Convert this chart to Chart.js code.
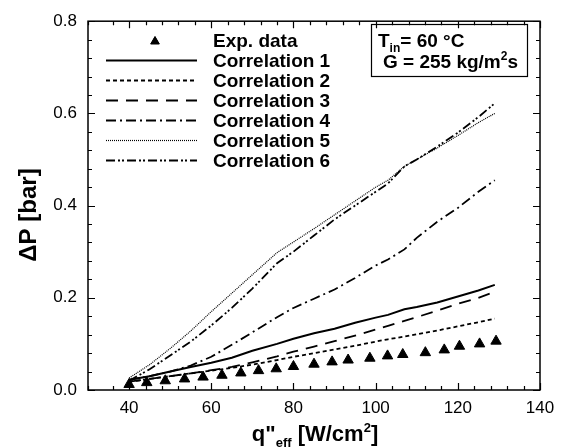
<!DOCTYPE html>
<html>
<head>
<meta charset="utf-8">
<title>Pressure drop vs effective heat flux</title>
<script src="https://cdn.jsdelivr.net/npm/chart.js@4.4.1/dist/chart.umd.min.js"></script>
<style>
  html, body { margin: 0; padding: 0; background: #fff; }
  #wrap { width: 564px; height: 448px; }
</style>
</head>
<body>
<div id="wrap"><canvas id="my-chart" width="564" height="448"></canvas></div>
<script>
'use strict';

// *** DATA ***

// experimental points (triangles)
let expFlux = [40, 44.3, 48.8, 53.5, 58, 62.6, 67.2, 71.5, 75.8, 80, 85, 89.4, 93.3, 98.6, 102.9, 106.6, 112.1, 116.7, 120.4, 125.3, 129.3];
let expDrop = [0.012, 0.016, 0.020, 0.024, 0.028, 0.032, 0.037, 0.042, 0.046, 0.051, 0.056, 0.061, 0.065, 0.069, 0.074, 0.077, 0.081, 0.087, 0.095, 0.100, 0.106];

// the six correlations share one flux grid
let corrFlux = [40, 45, 50, 55, 60, 65, 70, 76, 80, 85, 90, 95, 100, 103, 107, 110, 115, 120, 125, 129];
let corr1 = [0.022, 0.030, 0.040, 0.050, 0.059, 0.070, 0.085, 0.100, 0.111, 0.123, 0.133, 0.146, 0.157, 0.163, 0.175, 0.180, 0.190, 0.203, 0.216, 0.228];
let corr2 = [0.018, 0.024, 0.030, 0.036, 0.042, 0.048, 0.055, 0.065, 0.072, 0.080, 0.088, 0.096, 0.105, 0.110, 0.116, 0.121, 0.129, 0.138, 0.147, 0.155];
let corr3 = [0.018, 0.024, 0.030, 0.036, 0.043, 0.050, 0.060, 0.073, 0.083, 0.094, 0.106, 0.118, 0.131, 0.139, 0.150, 0.158, 0.172, 0.187, 0.200, 0.213];
let corr4 = [0.022, 0.030, 0.040, 0.053, 0.072, 0.098, 0.125, 0.158, 0.178, 0.198, 0.218, 0.243, 0.270, 0.283, 0.305, 0.330, 0.365, 0.395, 0.430, 0.455];
let corr5 = [0.026, 0.055, 0.090, 0.128, 0.170, 0.210, 0.250, 0.298, 0.321, 0.350, 0.380, 0.410, 0.440, 0.455, 0.485, 0.500, 0.525, 0.552, 0.580, 0.600];
let corr6 = [0.020, 0.045, 0.075, 0.105, 0.140, 0.178, 0.220, 0.275, 0.300, 0.335, 0.370, 0.400, 0.430, 0.448, 0.485, 0.500, 0.528, 0.558, 0.592, 0.622];

let xTickLabels = [40, 60, 80, 100, 120, 140];
let yTickLabels = [0.0, 0.2, 0.4, 0.6, 0.8];

const FONT = '"Liberation Sans", Arial, sans-serif';

// *** HELPERS ***

function toPoints(xs, ys) {
  let pts = [];
  for (let i = 0; i < xs.length; i++) {
    pts.push({ x: xs[i], y: ys[i] });
  }
  return pts;
}

function corrDataset(name, values, dash, width) {
  return {
    label: name,
    data: toPoints(corrFlux, values),
    showLine: true,
    borderColor: '#000',
    borderWidth: width,
    borderDash: dash,
    pointRadius: 0,
    pointHoverRadius: 0,
    fill: false,
    tension: 0
  };
}

function isLabelTick(list, v) {
  return list.some(t => Math.abs(t - v) < 1e-6);
}

// *** PLUGINS ***

// box frame with inward ticks on all four sides
const framePlugin = {
  id: 'frame',
  afterDatasetsDraw(chart) {
    let ctx = chart.ctx;
    let a = chart.chartArea;
    let xs = chart.scales.x;
    let ys = chart.scales.y;
    ctx.save();
    ctx.strokeStyle = '#000';
    ctx.lineWidth = 1.5;
    ctx.strokeRect(a.left, a.top, a.right - a.left, a.bottom - a.top);
    ctx.lineWidth = 1.2;
    ctx.beginPath();
    xs.ticks.forEach(t => {
      let px = Math.round(xs.getPixelForValue(t.value)) + 0.5;
      let len = isLabelTick(xTickLabels, t.value) ? 7 : 4;
      ctx.moveTo(px, a.bottom); ctx.lineTo(px, a.bottom - len);
      ctx.moveTo(px, a.top); ctx.lineTo(px, a.top + len);
    });
    ys.ticks.forEach(t => {
      let py = Math.round(ys.getPixelForValue(t.value)) + 0.5;
      let len = isLabelTick(yTickLabels, t.value) ? 7 : 4;
      ctx.moveTo(a.left, py); ctx.lineTo(a.left + len, py);
      ctx.moveTo(a.right, py); ctx.lineTo(a.right - len, py);
    });
    ctx.stroke();
    ctx.restore();
  }
};

// legend and the condition box drawn inside the plot
const notesPlugin = {
  id: 'notes',
  afterDraw(chart) {
    let ctx = chart.ctx;
    ctx.save();
    ctx.fillStyle = '#000';
    ctx.strokeStyle = '#000';
    ctx.font = 'bold 19px ' + FONT;
    ctx.textBaseline = 'alphabetic';

    chart.data.datasets.forEach((ds, i) => {
      let base = 47 + i * 20;
      let midY = base - 6.5;
      if (ds.showLine) {
        ctx.save();
        ctx.lineWidth = ds.borderWidth;
        ctx.setLineDash(ds.borderDash || []);
        ctx.beginPath();
        ctx.moveTo(106, midY);
        ctx.lineTo(197, midY);
        ctx.stroke();
        ctx.restore();
      } else {
        Chart.helpers.drawPoint(ctx, { pointStyle: 'triangle', radius: 5, borderWidth: 1 }, 155, midY + 1);
        ctx.fill();
      }
      ctx.fillText(ds.label, 213, base);
    });

    // condition box
    ctx.lineWidth = 1.2;
    ctx.strokeRect(371.5, 24.5, 156, 52);
    let x = 378;
    ctx.fillText('T', x, 47);
    x += ctx.measureText('T').width;
    ctx.font = 'bold 12px ' + FONT;
    ctx.fillText('in', x, 52);
    x += ctx.measureText('in').width;
    ctx.font = 'bold 19px ' + FONT;
    ctx.fillText('= 60 \u00B0C', x, 47);

    x = 383;
    let txt = 'G = 255 kg/m';
    ctx.fillText(txt, x, 68);
    x += ctx.measureText(txt).width;
    ctx.font = 'bold 12px ' + FONT;
    ctx.fillText('2', x, 60);
    x += ctx.measureText('2').width;
    ctx.font = 'bold 19px ' + FONT;
    ctx.fillText('s', x, 68);
    ctx.restore();
  }
};

// axis titles with sub/superscripts
const titlesPlugin = {
  id: 'titles',
  afterDraw(chart) {
    let ctx = chart.ctx;
    ctx.save();
    ctx.fillStyle = '#000';

    // x title: q"eff [W/cm2]
    let big = 'bold 22px ' + FONT;
    let small = 'bold 13px ' + FONT;
    let parts = [
      { t: 'q"', f: big, dy: 0 },
      { t: 'eff', f: small, dy: 6 },
      { t: ' [W/cm', f: big, dy: 0 },
      { t: '2', f: small, dy: -9 },
      { t: ']', f: big, dy: 0 }
    ];
    let total = 0;
    parts.forEach(p => { ctx.font = p.f; total += ctx.measureText(p.t).width; });
    let x = 315 - total / 2;
    let base = 441;
    ctx.textBaseline = 'alphabetic';
    parts.forEach(p => {
      ctx.font = p.f;
      ctx.fillText(p.t, x, base + p.dy);
      x += ctx.measureText(p.t).width;
    });

    // y title
    ctx.translate(29, 215);
    ctx.rotate(-Math.PI / 2);
    ctx.font = 'bold 24px ' + FONT;
    ctx.textAlign = 'center';
    ctx.textBaseline = 'middle';
    ctx.fillText('\u0394P [bar]', 0, 0);
    ctx.restore();
  }
};

// *** CHART ***

let canvasElem = document.getElementById('my-chart');

let datasets = [
  {
    label: 'Exp. data',
    data: toPoints(expFlux, expDrop),
    showLine: false,
    pointStyle: 'triangle',
    pointRadius: 6,
    pointHoverRadius: 6,
    pointBackgroundColor: '#000',
    pointBorderColor: '#000',
    pointBorderWidth: 1
  },
  corrDataset('Correlation 1', corr1, [], 2),
  corrDataset('Correlation 2', corr2, [4, 3], 1.8),
  corrDataset('Correlation 3', corr3, [12, 8], 1.8),
  corrDataset('Correlation 4', corr4, [10, 4, 2, 4], 1.8),
  corrDataset('Correlation 5', corr5, [1, 1], 1.2),
  corrDataset('Correlation 6', corr6, [9, 3, 2, 2, 2, 3], 1.8)
];

new Chart(canvasElem, {
  type: 'scatter',
  data: { datasets: datasets },
  options: {
    responsive: false,
    animation: false,
    devicePixelRatio: 1,
    layout: { padding: { left: 0, right: 24, top: 11, bottom: 0 } },
    plugins: {
      legend: { display: false },
      tooltip: { enabled: false }
    },
    scales: {
      x: {
        type: 'linear',
        min: 30,
        max: 140,
        grid: { display: false, drawTicks: false },
        border: { display: false },
        ticks: {
          stepSize: 4,
          autoSkip: false,
          maxRotation: 0,
          padding: 8,
          color: '#000',
          font: { family: FONT, size: 17 },
          callback: (v) => isLabelTick(xTickLabels, v) ? String(Math.round(v)) : ''
        },
        afterFit: (scale) => { scale.height = 58; }
      },
      y: {
        type: 'linear',
        min: 0,
        max: 0.8,
        grid: { display: false, drawTicks: false },
        border: { display: false },
        ticks: {
          stepSize: 0.04,
          autoSkip: false,
          padding: 11,
          color: '#000',
          font: { family: FONT, size: 17 },
          callback: (v) => isLabelTick(yTickLabels, v) ? v.toFixed(1) : ''
        },
        afterFit: (scale) => { scale.width = 88; }
      }
    }
  },
  plugins: [framePlugin, notesPlugin, titlesPlugin]
});
</script>
</body>
</html>
